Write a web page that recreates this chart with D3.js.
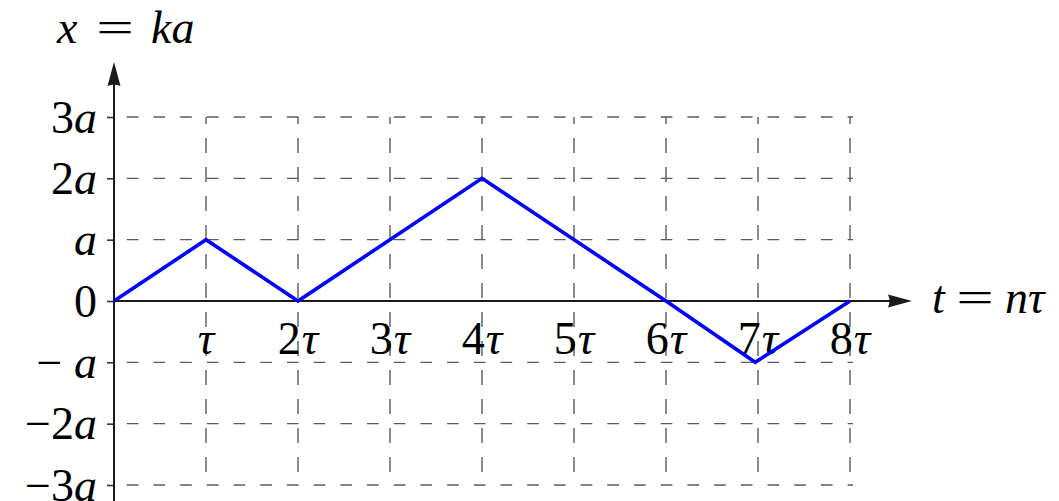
<!DOCTYPE html>
<html>
<head>
<meta charset="utf-8">
<script src="https://cdn.jsdelivr.net/npm/d3@7"></script>
<style>
  html, body { margin: 0; padding: 0; background: #fff; }
  svg { display: block; }
  text { font-family: "Liberation Serif", "DejaVu Serif", serif; fill: #000; }
</style>
</head>
<body>
<svg id="chart" width="1059" height="501"></svg>
<script>
// ---- data ----
const tValues = [0, 1, 2, 4, 6, 6.97, 8];      // t in units of tau
const xValues = [0, 1, 0, 2, 0, -1, 0];        // x in units of a
const xTickValues = [1, 2, 3, 4, 5, 6, 7, 8];
const xTickLabels = ["τ", "2τ", "3τ", "4τ", "5τ", "6τ", "7τ", "8τ"];
const yTickValues = [-3, -2, -1, 0, 1, 2, 3];
const yTickLabels = ["−3a", "−2a", "− a", "0", "a", "2a", "3a"];
const xAxisTitle = ["t", "=", "nτ"];
const yAxisTitle = ["x", "=", "ka"];

// ---- layout ----
const svg = d3.select("#chart");
const x = d3.scaleLinear().domain([0, 8]).range([114, 850]);
const y = d3.scaleLinear().domain([-3, 3]).range([485, 117]);
const FS = 46;

// render label with upright digits/minus and italic letters
function richText(sel, str) {
  sel.text(null);
  const parts = [];
  for (const ch of str) {
    const it = /[a-zA-Zτ]/.test(ch);
    if (parts.length && parts[parts.length - 1].it === it) parts[parts.length - 1].s += ch;
    else parts.push({ s: ch, it });
  }
  parts.forEach(p => {
    sel.append("tspan")
      .attr("font-style", p.it ? "italic" : "normal")
      .text(p.s);
  });
}

// ---- grid ----
const grid = svg.append("g").attr("stroke", "#5c5c5c").attr("stroke-width", 1.4).attr("fill", "none");
grid.selectAll("line.h")
  .data(yTickValues.filter(v => v !== 0))
  .join("line")
  .attr("x1", x(0)).attr("x2", x(8) + 3)
  .attr("y1", d => y(d)).attr("y2", d => y(d))
  .attr("stroke-dasharray", "11.7,15")
  .attr("stroke-dashoffset", 14);
grid.selectAll("line.v")
  .data(xTickValues)
  .join("line")
  .attr("x1", d => x(d)).attr("x2", d => x(d))
  .attr("y1", y(3)).attr("y2", y(-3))
  .attr("stroke-dasharray", "15,14")
  .attr("stroke-dashoffset", 8);

// ---- y axis ticks + labels ----
const yAxisG = svg.append("g")
  .attr("transform", `translate(${x(0)},0)`)
  .call(d3.axisLeft(y).tickValues(yTickValues).tickSize(7).tickPadding(10)
        .tickFormat((d, i) => yTickLabels[i]));
yAxisG.select(".domain").remove();
yAxisG.selectAll(".tick line").attr("stroke", "#333").attr("stroke-width", 1.6);
yAxisG.selectAll(".tick text")
  .attr("font-size", FS)
  .attr("font-family", "Liberation Serif")
  .attr("dy", "0.33em")
  .each(function (d, i) { richText(d3.select(this), yTickLabels[i]); });

// ---- x axis labels ----
const xAxisG = svg.append("g")
  .attr("transform", `translate(0,${y(0)})`)
  .call(d3.axisBottom(x).tickValues(xTickValues).tickSize(0).tickPadding(0)
        .tickFormat((d, i) => xTickLabels[i]));
xAxisG.select(".domain").remove();
xAxisG.selectAll(".tick text")
  .attr("font-size", FS)
  .attr("font-family", "Liberation Serif")
  .attr("y", 53)
  .attr("dy", 0)
  .attr("letter-spacing", 1)
  .each(function (d, i) { richText(d3.select(this), xTickLabels[i]); });

// ---- axes lines with arrows ----
const axisColor = "#1a1a1a";
svg.append("line")
  .attr("x1", x(0)).attr("x2", 892)
  .attr("y1", y(0)).attr("y2", y(0))
  .attr("stroke", axisColor).attr("stroke-width", 2);
svg.append("path")
  .attr("d", `M912,${y(0)} L888,${y(0) - 6.5} Q891,${y(0)} 888,${y(0) + 6.5} Z`)
  .attr("fill", axisColor);
svg.append("line")
  .attr("x1", x(0)).attr("x2", x(0))
  .attr("y1", 501).attr("y2", 84)
  .attr("stroke", axisColor).attr("stroke-width", 2);
svg.append("path")
  .attr("d", `M${x(0)},62 L${x(0) - 6.5},86 Q${x(0)},83 ${x(0) + 6.5},86 Z`)
  .attr("fill", axisColor);

// ---- data line ----
const pts = tValues.map((t, i) => [t, xValues[i]]);
svg.append("path")
  .datum(pts)
  .attr("d", d3.line().x(d => x(d[0])).y(d => y(d[1])))
  .attr("fill", "none")
  .attr("stroke", "#0000ff")
  .attr("stroke-width", 3.6)
  .attr("stroke-linejoin", "miter");

// ---- axis titles (math-style: wide "=") ----
function mathTitle(parts, xs, baseline) {
  const g = svg.append("g");
  g.append("text").attr("x", xs[0]).attr("y", baseline)
    .attr("font-size", FS).attr("font-style", "italic").text(parts[0]);
  g.append("text")
    .attr("transform", `translate(${xs[1]},${baseline}) scale(1.45,1)`)
    .attr("text-anchor", "middle")
    .attr("font-size", FS).text(parts[1]);
  g.append("text").attr("x", xs[2]).attr("y", baseline)
    .attr("font-size", FS).attr("font-style", "italic").text(parts[2]);
}
mathTitle(xAxisTitle, [932, 975, 1005], 313);
mathTitle(yAxisTitle, [57, 115, 151], 43);
</script>
</body>
</html>
